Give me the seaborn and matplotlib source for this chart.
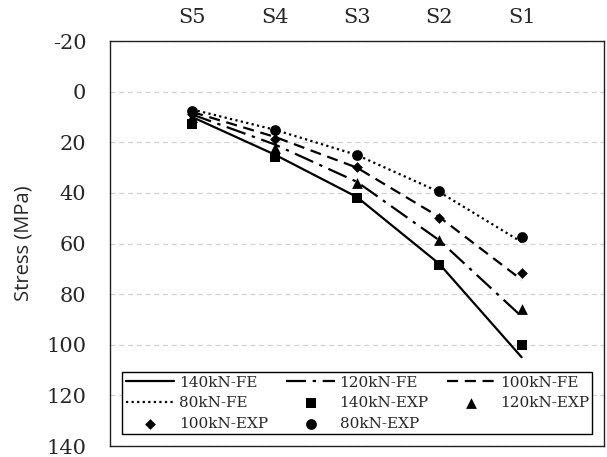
import numpy as np
import pandas as pd
import matplotlib
matplotlib.use("Agg")
import matplotlib.pyplot as plt
import seaborn as sns

# Data (stress in MPa, axis reversed)
sections = ["S5", "S4", "S3", "S2", "S1"]
positions = [1, 2, 3, 4, 5]

fe_140 = [10.0, 24.8, 41.6, 68.0, 104.9]
fe_120 = [9.0, 20.8, 35.6, 58.7, 88.8]
fe_100 = [8.0, 17.8, 30.0, 49.5, 74.3]
fe_80 = [7.0, 15.0, 25.0, 39.6, 59.4]

exp_140 = [12.8, 25.7, 42.0, 68.3, 99.9]
exp_120 = [10.0, 22.4, 35.9, 58.4, 85.9]
exp_100 = [8.6, 18.7, 29.9, 49.7, 71.5]
exp_80 = [7.5, 15.0, 25.1, 39.2, 57.4]

y_ticks = [-20, 0, 20, 40, 60, 80, 100, 120, 140]

sns.set_style("white")
plt.rcParams["font.family"] = ["DejaVu Serif"]

fig = plt.figure(figsize=(6.07, 4.57), dpi=100)
ax = fig.add_axes([0.181, 0.024, 0.814, 0.886])

# FE curves
fe_series = [
    ("140kN-FE", fe_140, "-"),
    ("120kN-FE", fe_120, (0, (9, 3, 1.5, 3))),
    ("100kN-FE", fe_100, (0, (5, 3))),
    ("80kN-FE", fe_80, (0, (1, 1.5))),
]
for name, vals, ls in fe_series:
    sns.lineplot(x=positions, y=vals, ax=ax, color="black", linestyle=ls,
                 linewidth=1.6, label=name, zorder=3)

# experimental points
exp_series = [
    ("140kN-EXP", exp_140, "s", 60),
    ("120kN-EXP", exp_120, "^", 60),
    ("100kN-EXP", exp_100, "D", 30),
    ("80kN-EXP", exp_80, "o", 60),
]
for name, vals, mk, size in exp_series:
    sns.scatterplot(x=positions, y=vals, ax=ax, color="black", marker=mk,
                    s=size, linewidth=0, label=name, zorder=4)

ax.set_xlim(0, 6)
ax.set_ylim(140, -20)
ax.set_yticks(y_ticks)
ax.set_yticklabels([str(v) for v in y_ticks], fontsize=15)
ax.set_xticks(positions)
ax.set_xticklabels(sections, fontsize=15)
ax.xaxis.tick_top()
ax.tick_params(axis="both", length=0)
ax.tick_params(axis="x", pad=10)
ax.tick_params(axis="y", pad=17)

ax.yaxis.grid(True, color="#d0d0d0", linestyle=(0, (4, 3)), linewidth=0.9)
ax.set_axisbelow(True)
for sp in ax.spines.values():
    sp.set_color("#222222")
    sp.set_linewidth(1.0)

ax.set_ylabel("Stress (MPa)", fontsize=14.5, family=["Open Sans", "DejaVu Sans"],
              labelpad=9)
ax.set_xlabel("")

# legend laid out row by row like the reference
h, l = ax.get_legend_handles_labels()
lookup = dict(zip(l, h))
order = ["140kN-FE", "80kN-FE", "100kN-EXP",
         "120kN-FE", "140kN-EXP", "80kN-EXP",
         "100kN-FE", "120kN-EXP"]
leg = ax.legend([lookup[k] for k in order], order, ncol=3, loc="lower left",
                bbox_to_anchor=(0.01, 0.01, 0.982, 0.18), mode="expand",
                fancybox=False, framealpha=1, edgecolor="black",
                fontsize=11, handlelength=3.2, handletextpad=0.3,
                borderpad=0.2, labelspacing=0.45, columnspacing=1.0)
leg.get_frame().set_linewidth(1.0)

fig.savefig("out.png", dpi=100)
